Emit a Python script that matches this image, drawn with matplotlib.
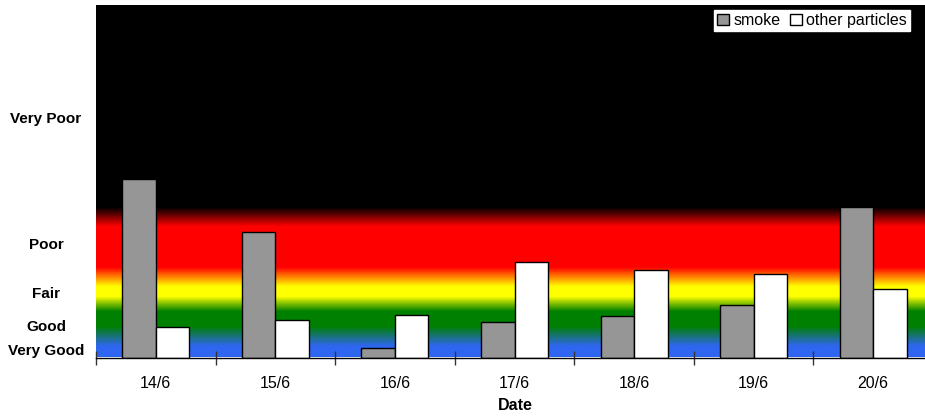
import numpy as np
import matplotlib as mpl
import matplotlib.pyplot as plt
from matplotlib.colors import LinearSegmentedColormap

plt.rcParams['font.family'] = ['Liberation Sans', 'DejaVu Sans']

dates = ['14/6', '15/6', '16/6', '17/6', '18/6', '19/6', '20/6']
smoke = [101.3, 71.2, 5.2, 20.1, 23.7, 29.6, 85.4]
other = [17.3, 21.3, 24.3, 54.2, 49.6, 47.2, 38.9]

bands = ['Very Good', 'Good', 'Fair', 'Poor', 'Very Poor']
band_pos = [4.8, 18.4, 36.6, 64.4, 135.9]

ymax = 200.0

# background colour stops (value, colour)
grad_stops = [(0.0, '#2f66f0'), (6.0, '#2f66f0'), (17.3, '#008000'),
              (25.8, '#008000'), (34.3, '#ffff00'), (40.0, '#ffff00'),
              (50.8, '#ff0000'), (74.0, '#ff0000'), (84.8, '#000000'),
              (200.0, '#000000')]

cmap = LinearSegmentedColormap.from_list(
    'aq', [(v/ymax, c) for v, c in grad_stops], N=1024)

fig = plt.figure(figsize=(9.25, 4.16), dpi=100)
W, H = 925, 416
ax = fig.add_axes([96/W, (H-357.5)/H, (933-96)/W, (357.5-5)/H])

grad = np.linspace(0, ymax, 1000).reshape(-1, 1)
ax.imshow(grad, cmap=cmap, aspect='auto', origin='lower',
          extent=(-0.5, 6.5, 0, ymax), zorder=0, interpolation='bilinear')

x = np.arange(len(dates))
w = 0.28
ax.bar(x - w/2, smoke, w, color='#969696', edgecolor='black', lw=1.0,
       label='smoke', zorder=2)
ax.bar(x + w/2, other, w, color='white', edgecolor='black', lw=1.0,
       label='other particles', zorder=2)

ax.set_xlim(-0.5, 6.5)
ax.set_ylim(0, ymax)

ax.set_xticks(np.arange(-0.5, 7.0, 1.0))
ax.set_xticklabels([])
ax.set_xticks(x, minor=True)
ax.set_xticklabels(dates, minor=True, fontsize=11.5)
ax.tick_params(axis='x', which='major', direction='inout', length=10,
               width=1, color='#333333')
ax.tick_params(axis='x', which='minor', length=0, pad=13)

ax.set_yticks(band_pos)
ax.set_yticklabels(bands, fontsize=11, fontweight='bold', ha='center')
ax.tick_params(axis='y', length=0, pad=36)

for s in ['top', 'right', 'left']:
    ax.spines[s].set_visible(False)
ax.spines['bottom'].set_linewidth(1.0)

ax.set_xlabel('Date', fontsize=11.5, fontweight='bold')
ax.xaxis.set_label_coords((515 - 96) / (933 - 96), -0.115)

leg = ax.legend(loc='upper right', bbox_to_anchor=(910/W, (H-10)/H),
                bbox_transform=fig.transFigure, ncol=2, fontsize=11.5,
                frameon=True, fancybox=False, framealpha=1,
                edgecolor='white', handlelength=0.75, handleheight=0.75,
                handletextpad=0.25, columnspacing=0.6, borderpad=0.2,
                borderaxespad=0)

fig.savefig('out.png', dpi=100)
